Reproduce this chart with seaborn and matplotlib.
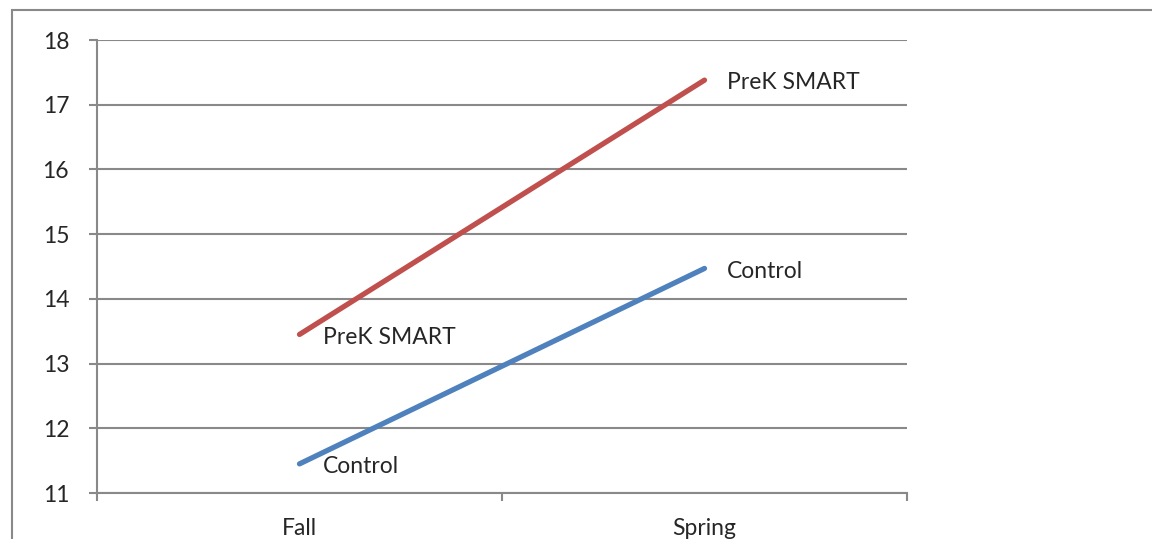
import matplotlib.pyplot as plt
import matplotlib.patches as mpatches
import seaborn as sns
import pandas as pd

# data
seasons = ["Fall", "Spring"]
prek_smart = [13.45, 17.38]
control = [11.45, 14.47]
series_names = ["PreK SMART", "Control"]
colors = {"PreK SMART": "#C0504D", "Control": "#4F81BD"}

df = pd.DataFrame({
    "season": seasons * 2,
    "x": [0, 1] * 2,
    "score": prek_smart + control,
    "group": [series_names[0]] * 2 + [series_names[1]] * 2,
})

sns.set_style("white")
plt.rcParams['font.family'] = ['Lato', 'DejaVu Sans']

GRID = "#898989"
FS = 16.5
fig = plt.figure(figsize=(11.52, 5.39), dpi=100)
ax = fig.add_axes([97 / 1152, 1 - 493 / 539, 810 / 1152, 453 / 539])

sns.lineplot(data=df, x="x", y="score", hue="group", palette=colors,
             linewidth=3.8, legend=False, ax=ax, solid_capstyle="round")

ax.set_xlim(-0.5, 1.5)
ax.set_ylim(11, 18)
ax.set_yticks(range(11, 19))
ax.yaxis.grid(True, color=GRID, linewidth=1.5)
ax.set_axisbelow(True)

# category ticks sit between categories, labels centred on them
ax.set_xticks([-0.5, 0.5, 1.5])
ax.set_xticklabels([])
ax.set_xticks([0, 1], minor=True)
ax.set_xticklabels(seasons, minor=True, fontsize=FS)
ax.tick_params(axis="x", which="minor", bottom=True, length=0, pad=18)
ax.tick_params(axis="x", which="major", bottom=True, length=6, width=1.5,
               color=GRID, direction="out")
ax.tick_params(axis="y", left=True, length=6, width=1.5, color=GRID,
               direction="out", labelsize=FS, pad=14)

for side in ["top", "right"]:
    ax.spines[side].set_visible(False)
for side in ["left", "bottom"]:
    ax.spines[side].set_color(GRID)
    ax.spines[side].set_linewidth(1.5)
ax.set_xlabel("")
ax.set_ylabel("")

# series labels next to the end points
for name, vals in zip(series_names, [prek_smart, control]):
    ax.annotate(name, (0, vals[0]), xytext=(17, -2), textcoords="offset points",
                va="center", ha="left", fontsize=FS)
    ax.annotate(name, (1, vals[1]), xytext=(16, -2), textcoords="offset points",
                va="center", ha="left", fontsize=FS)

# chart area border (cropped on right and bottom)
fig.patches.append(mpatches.Rectangle((12 / 1152, -0.1), 1.2, 1 - 10 / 539 + 0.1,
                                      transform=fig.transFigure, fill=False,
                                      edgecolor=GRID, linewidth=1.5))

fig.savefig("out.png", dpi=100)
